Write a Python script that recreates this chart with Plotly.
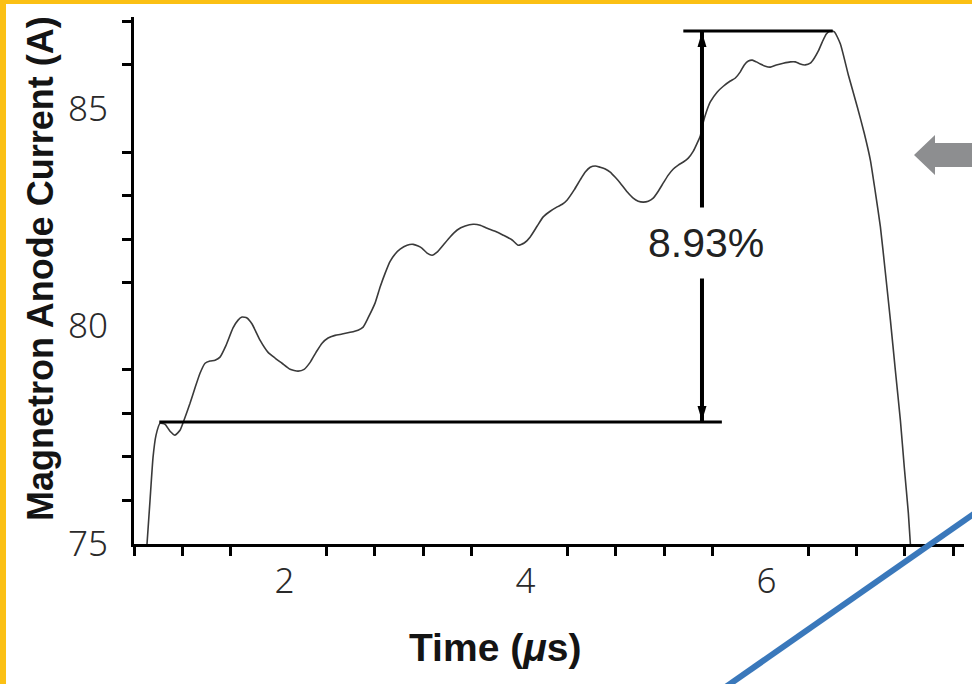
import plotly.graph_objects as go

# Magnetron anode current during one pulse (time in microseconds, current in amperes)
time_us = [
    0.908, 0.933, 0.958, 0.983, 1.016, 1.057, 1.099, 1.140, 1.182, 1.215,
    1.265, 1.306, 1.348, 1.390, 1.431, 1.473, 1.514, 1.564, 1.622, 1.664,
    1.697, 1.738, 1.780, 1.846, 1.913, 1.971, 2.029, 2.096, 2.162, 2.212,
    2.262, 2.311, 2.361, 2.411, 2.469, 2.527, 2.594, 2.660, 2.702, 2.743,
    2.801, 2.843, 2.885, 2.926, 2.968, 3.009, 3.067, 3.117, 3.159, 3.192,
    3.233, 3.275, 3.316, 3.366, 3.424, 3.483, 3.549, 3.615, 3.674, 3.732,
    3.798, 3.865, 3.939, 3.989, 4.039, 4.089, 4.147, 4.197, 4.255, 4.313,
    4.355, 4.396, 4.454, 4.504, 4.546, 4.587, 4.629, 4.670, 4.712, 4.753,
    4.795, 4.836, 4.895, 4.944, 4.986, 5.027, 5.069, 5.110, 5.152, 5.194,
    5.235, 5.277, 5.318, 5.360, 5.401, 5.443, 5.476, 5.501, 5.526, 5.551,
    5.584, 5.642, 5.692, 5.750, 5.792, 5.833, 5.866, 5.900, 5.933, 5.966,
    5.999, 6.041, 6.082, 6.132, 6.190, 6.248, 6.290, 6.331, 6.373, 6.414,
    6.448, 6.481, 6.514, 6.547, 6.581, 6.614, 6.664, 6.730, 6.805, 6.862,
    6.913, 6.954, 6.996, 7.037, 7.079, 7.120, 7.162, 7.195, 7.228, 7.245,
]
current_a = [
    75.00, 76.00, 76.99, 77.50, 77.77, 77.75, 77.59, 77.50, 77.61, 77.84,
    78.23, 78.58, 78.92, 79.15, 79.20, 79.22, 79.29, 79.56, 79.96, 80.14,
    80.21, 80.19, 80.05, 79.68, 79.40, 79.27, 79.15, 79.01, 78.97, 79.01,
    79.17, 79.40, 79.61, 79.73, 79.79, 79.82, 79.86, 79.91, 79.98, 80.19,
    80.53, 80.90, 81.22, 81.49, 81.66, 81.77, 81.86, 81.88, 81.84, 81.79,
    81.68, 81.63, 81.70, 81.86, 82.05, 82.21, 82.30, 82.34, 82.32, 82.25,
    82.18, 82.09, 81.98, 81.86, 81.91, 82.05, 82.30, 82.51, 82.64, 82.74,
    82.80, 82.90, 83.13, 83.36, 83.54, 83.65, 83.68, 83.65, 83.61, 83.54,
    83.42, 83.29, 83.08, 82.94, 82.87, 82.85, 82.87, 82.94, 83.10, 83.29,
    83.47, 83.61, 83.70, 83.77, 83.86, 84.02, 84.21, 84.37, 84.69, 84.92,
    85.15, 85.38, 85.51, 85.63, 85.70, 85.84, 86.00, 86.09, 86.11, 86.07,
    86.02, 85.97, 85.95, 86.00, 86.04, 86.07, 86.07, 86.02, 86.00, 86.04,
    86.16, 86.32, 86.53, 86.71, 86.78, 86.76, 86.48, 85.77, 85.03, 84.43,
    83.81, 83.08, 82.28, 81.24, 80.14, 78.99, 77.84, 76.74, 75.71, 75.00,
]

# Droop bracket: start-of-pulse level, end-of-pulse level and the arrow between them
lower_level = 77.80
upper_level = 86.78
lower_span = [1.01, 5.68]
upper_span = [5.36, 6.60]
arrow_time = 5.515
rise_label = "8.93%"
label_time = 5.55
label_current = 81.9

# Axis ticks
x_range = [0.8, 7.69]
y_range = [75, 87.1]
x_major = [2, 4, 6]
x_minor = [0.8, 1.2, 1.6, 2.4, 2.8, 3.2, 3.6, 4.4, 4.8, 5.2, 5.6, 6.4, 6.8, 7.2, 7.6]
y_major = [75, 80, 85]
y_minor = [76, 77, 78, 79, 81, 82, 83, 84, 86, 87]

x_title = "Time (<i>μ</i>s)"
y_title = "Magnetron Anode Current (A)"

BOLD = "Liberation Sans, Arial, sans-serif"
TICK_FONT = dict(family="Noto Sans, Open Sans, sans-serif", size=35, color="#2a2a2a", weight=300)

fig = go.Figure()

fig.add_trace(go.Scatter(
    x=time_us, y=current_a, mode="lines",
    line=dict(color="#3a3a3a", width=1.6, shape="spline", smoothing=0.5),
    hoverinfo="skip", showlegend=False,
))
fig.add_trace(go.Scatter(
    x=lower_span, y=[lower_level, lower_level], mode="lines",
    line=dict(color="black", width=3), hoverinfo="skip", showlegend=False,
))
fig.add_trace(go.Scatter(
    x=upper_span, y=[upper_level, upper_level], mode="lines",
    line=dict(color="black", width=3), hoverinfo="skip", showlegend=False,
))
fig.add_trace(go.Scatter(
    x=[arrow_time, arrow_time], y=[lower_level, upper_level], mode="lines",
    line=dict(color="black", width=4), hoverinfo="skip", showlegend=False,
))

shapes = [
    # arrow heads at both ends of the droop arrow (pixel-sized, anchored on the levels)
    dict(type="path", xref="x", yref="y", xsizemode="pixel", ysizemode="pixel",
         xanchor=arrow_time, yanchor=upper_level, path="M0,-1 L-4.5,-16 L4.5,-16 Z",
         fillcolor="black", line=dict(width=0), layer="above"),
    dict(type="path", xref="x", yref="y", xsizemode="pixel", ysizemode="pixel",
         xanchor=arrow_time, yanchor=lower_level, path="M0,1 L-4.5,16 L4.5,16 Z",
         fillcolor="black", line=dict(width=0), layer="above"),
    # frame strips along the top and left edges
    dict(type="rect", xref="paper", yref="paper", x0=-0.17, x1=1.05, y0=1.0247, y1=1.05,
         fillcolor="#FBC014", line=dict(width=0), layer="above"),
    dict(type="rect", xref="paper", yref="paper", x0=-0.17, x1=-0.1542, y0=-0.35, y1=1.05,
         fillcolor="#FBC014", line=dict(width=0), layer="above"),
    # grey pointer on the right
    dict(type="path", xref="paper", yref="paper", xsizemode="pixel", ysizemode="pixel",
         xanchor=0.93976, yanchor=0.73814,
         path="M0,0 L21,20 L21,12 L70,12 L70,-12 L21,-12 L21,-20 Z",
         fillcolor="#8d8e90", line=dict(width=0), layer="above"),
    # blue diagonal stroke in the lower right
    dict(type="line", xref="paper", yref="paper", x0=0.68193, y0=-0.30531, x1=1.04337, y1=0.09203,
         line=dict(color="#3a78bb", width=6), layer="above"),
]

annotations = [
    dict(x=label_time, y=label_current, xref="x", yref="y", text=rise_label, showarrow=False,
         font=dict(family="Liberation Sans, Arial, sans-serif", size=41, color="#222222"),
         bgcolor="white", borderpad=12, xanchor="center", yanchor="middle"),
    dict(x=-0.11325, y=0.52182, xref="paper", yref="paper", text=f"<b>{y_title}</b>",
         showarrow=False, textangle=-90, xanchor="center", yanchor="middle",
         font=dict(family=BOLD, size=36, color="#141414")),
    dict(x=0.43494, y=-0.19545, xref="paper", yref="paper", text=f"<b>{x_title}</b>",
         showarrow=False, xanchor="center", yanchor="middle",
         font=dict(family=BOLD, size=39, color="#141414")),
]

fig.update_layout(
    width=972, height=684, autosize=False,
    margin=dict(l=134, r=8, t=17, b=140),
    paper_bgcolor="white", plot_bgcolor="white",
    showlegend=False,
    shapes=shapes, annotations=annotations,
    xaxis=dict(
        range=x_range, tickmode="array", tickvals=x_major, ticktext=[str(v) for v in x_major],
        ticks="", showgrid=False, zeroline=False,
        showline=True, linecolor="black", linewidth=3,
        tickfont=TICK_FONT, ticklabelstandoff=4, ticklabelshift=6,
        minor=dict(tickmode="array", tickvals=x_minor, ticks="outside",
                   ticklen=9, tickwidth=3, tickcolor="black", showgrid=False),
    ),
    yaxis=dict(
        range=y_range, tickmode="array", tickvals=y_major, ticktext=[str(v) for v in y_major],
        ticks="", showgrid=False, zeroline=False,
        showline=True, linecolor="black", linewidth=3,
        tickfont=TICK_FONT, ticklabelstandoff=16,
        minor=dict(tickmode="array", tickvals=y_minor, ticks="outside",
                   ticklen=9, tickwidth=3, tickcolor="black", showgrid=False),
    ),
)

fig.write_html("out.html")
